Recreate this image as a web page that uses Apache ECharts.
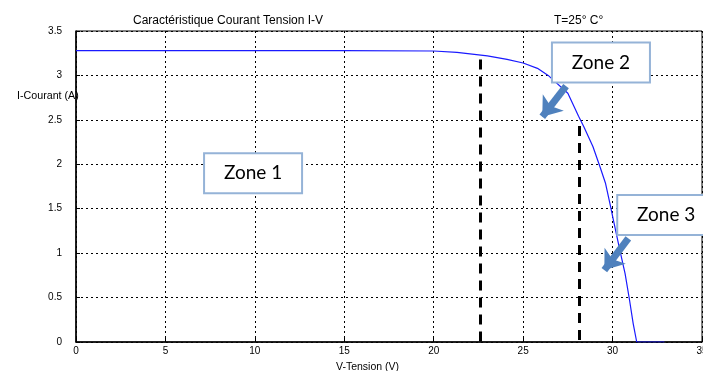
<!DOCTYPE html>
<html>
<head>
<meta charset="utf-8">
<script src="https://cdn.jsdelivr.net/npm/echarts@6/dist/echarts.min.js"></script>
<style>
  html, body { margin: 0; padding: 0; background: #fff; }
  #chart { width: 703px; height: 371px; }
</style>
</head>
<body>
<div id="chart"></div>
<script>
// I-V curve
const voltage = [0, 5, 10, 15, 20, 21.3, 23.0, 24.1, 25.0, 25.8, 26.4, 27.5, 28.1, 28.4, 28.9, 29.3, 29.6, 29.85, 30.05, 30.4, 30.7, 30.95, 31.15, 31.35, 32.9];
const current = [3.28, 3.28, 3.28, 3.28, 3.275, 3.26, 3.22, 3.18, 3.14, 3.08, 3.0, 2.8, 2.54, 2.42, 2.2, 1.97, 1.79, 1.56, 1.37, 1.04, 0.77, 0.47, 0.21, 0, 0];

// zone limits (dashed verticals): [V, top I]
const zoneLimits = [[22.6, 3.18], [28.15, 2.43]];

// zone labels: [name, V, I] (centre of box)
const zoneLabels = [['Zone 1', 9.9, 1.9], ['Zone 2', 29.35, 3.145], ['Zone 3', 33.0, 1.43]];

// arrows: [fromV, fromI, toV, toI]
const arrows = [[27.4, 2.88, 26.07, 2.535], [30.88, 1.167, 29.54, 0.81]];

const xTicks = [0, 5, 10, 15, 20, 25, 30, 35];
const yTicks = [0, 0.5, 1, 1.5, 2, 2.5, 3, 3.5];

const chart = echarts.init(document.getElementById('chart'));
const font = 'Liberation Sans, Arial, sans-serif';

const option = {
  animation: false,
  backgroundColor: '#fff',
  textStyle: { fontFamily: font },
  title: [
    { text: 'Caractéristique Courant Tension I-V', left: 128, top: 10, textStyle: { fontSize: 12, fontWeight: 'normal', color: '#000', fontFamily: font } },
    { text: 'T=25° C°', left: 549, top: 10, textStyle: { fontSize: 12, fontWeight: 'normal', color: '#000', fontFamily: font } },
    { text: 'I-Courant (A)', left: 12, top: 86, textStyle: { fontSize: 10.7, fontWeight: 'normal', color: '#000', fontFamily: font } },
    { text: 'V-Tension (V)', left: 331, top: 357, textStyle: { fontSize: 10.5, fontWeight: 'normal', color: '#000', fontFamily: font } }
  ],
  grid: { left: 76, right: 1, top: 31, bottom: 29, outerBoundsMode: 'none', containLabel: false, show: true, borderColor: '#000', borderWidth: 1 },
  xAxis: {
    type: 'value', min: 0, max: 35, interval: 5,
    axisLine: { lineStyle: { color: '#000', width: 1.5 } },
    axisTick: { inside: true, length: 4, lineStyle: { color: '#000' } },
    axisLabel: { color: '#000', fontSize: 10, margin: 4, formatter: v => xTicks.includes(v) ? String(v) : '' },
    splitLine: { show: true, lineStyle: { color: '#000', type: [2, 3], width: 1 } }
  },
  yAxis: {
    type: 'value', min: 0, max: 3.5, interval: 0.5,
    axisLine: { show: true, lineStyle: { color: '#000', width: 1.5 } },
    axisTick: { show: true, inside: true, length: 4, lineStyle: { color: '#000' } },
    axisLabel: { color: '#000', fontSize: 10, margin: 14, formatter: v => yTicks.includes(v) ? String(v) : '' },
    splitLine: { show: true, lineStyle: { color: '#000', type: [2, 3], width: 1 } }
  },
  series: [
    {
      type: 'line',
      data: voltage.map((v, i) => [v, current[i]]),
      showSymbol: false,
      lineStyle: { color: '#1a1aff', width: 1.2 },
      z: 3,
      markLine: {
        silent: true,
        symbol: ['none', 'none'],
        label: { show: false },
        lineStyle: { color: '#000', width: 3, type: [10, 7] },
        data: zoneLimits.map(([v, top]) => [{ coord: [v, top] }, { coord: [v, 0] }])
      }
    },
    {
      type: 'scatter',
      data: [],
      z: 5,
      markPoint: {
        silent: true,
        symbol: 'circle',
        symbolSize: 1,
        itemStyle: { color: 'rgba(0,0,0,0)' },
        label: {
          show: true, position: 'inside', formatter: '{b}', color: '#000', fontSize: 19,
          fontFamily: 'Lato, Liberation Sans, sans-serif',
          backgroundColor: '#fff', borderColor: '#95b3d7', borderWidth: 2,
          width: 96, height: 38, lineHeight: 38, align: 'center', verticalAlign: 'middle', padding: 0
        },
        data: zoneLabels.map(([name, v, c]) => ({ name, coord: [v, c] }))
      }
    },
    {
      type: 'scatter',
      data: [],
      z: 6,
      markLine: {
        silent: true,
        symbol: ['none', 'arrow'],
        symbolSize: [20, 18],
        label: { show: false },
        lineStyle: { color: '#4f81bd', width: 7, type: 'solid', opacity: 1 },
        data: arrows.map(([x1, y1, x2, y2]) => [{ coord: [x1, y1] }, { coord: [x2, y2] }])
      }
    }
  ]
};

chart.setOption(option);
</script>
</body>
</html>
